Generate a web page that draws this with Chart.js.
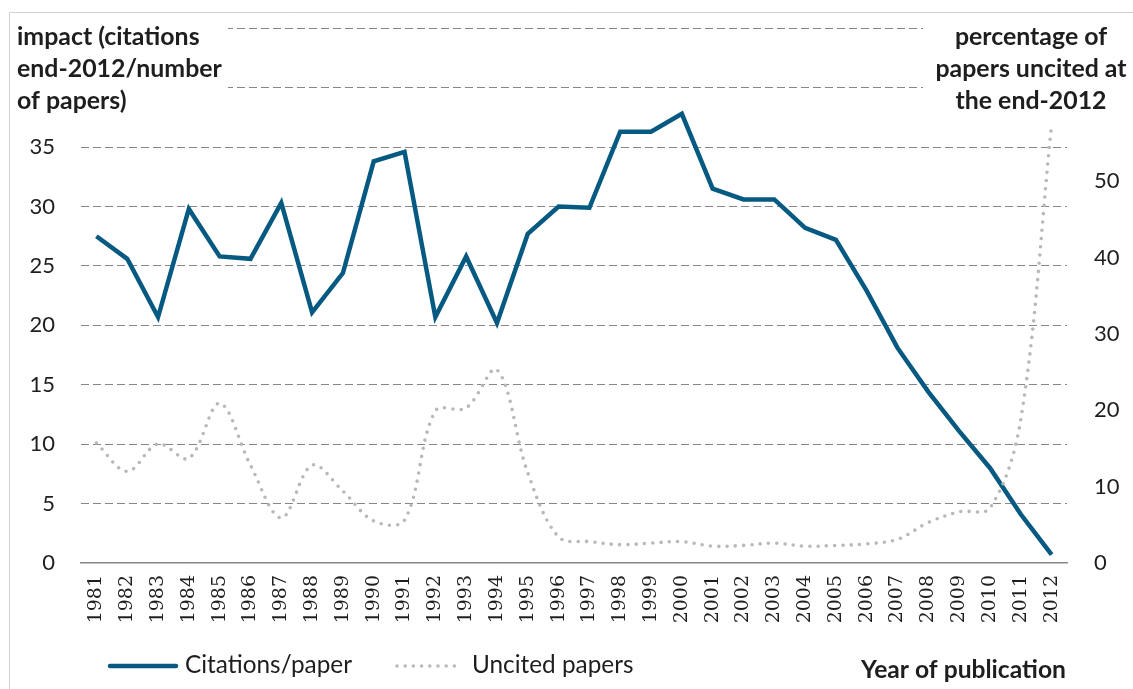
<!DOCTYPE html>
<html>
<head>
<meta charset="utf-8">
<title>Citations per paper and uncited papers by year of publication</title>
<script src="https://cdn.jsdelivr.net/npm/chart.js@4.4.1/dist/chart.umd.min.js"></script>
<style>
  html, body { margin: 0; padding: 0; background: #ffffff; }
  #wrap { position: relative; width: 1133px; height: 689px; }
  canvas { display: block; }
</style>
</head>
<body>
<div id="wrap"><canvas id="c" width="1133" height="689"></canvas></div>
<script>
// Year of publication
const years = ['1981','1982','1983','1984','1985','1986','1987','1988','1989','1990',
               '1991','1992','1993','1994','1995','1996','1997','1998','1999','2000',
               '2001','2002','2003','2004','2005','2006','2007','2008','2009','2010',
               '2011','2012'];

// Impact: citations at end-2012 divided by number of papers
const citationsPerPaper = [27.5, 25.6, 20.7, 29.8, 25.8, 25.6, 30.3, 21.1, 24.4, 33.8,
                           34.6, 20.7, 25.8, 20.2, 27.7, 30.0, 29.9, 36.3, 36.3, 37.8,
                           31.5, 30.6, 30.6, 28.2, 27.2, 22.9, 18.1, 14.4, 11.1, 8.0,
                           4.1, 0.7];

// Percentage of papers still uncited at end-2012
const uncitedPct = [15.7, 12.0, 15.6, 13.7, 20.9, 12.8, 5.9, 12.8, 9.4, 5.5,
                    5.6, 19.9, 20.3, 25.3, 11.8, 3.4, 2.8, 2.4, 2.6, 2.8,
                    2.2, 2.3, 2.6, 2.2, 2.3, 2.5, 3.1, 5.3, 6.7, 7.2,
                    18.8, 57.4];

// Axis tick settings
const leftAxisMax = 45, leftStep = 5, leftLabelMax = 35;
const rightAxisMax = 70, rightStep = 10, rightLabelMax = 50;

const leftTitle = ['impact (citations', 'end-2012/number', 'of papers)'];
const rightTitle = ['percentage of', 'papers uncited at', 'the end-2012'];
const xTitle = 'Year of publication';
const seriesNames = ['Citations/paper', 'Uncited papers'];

const BLUE = '#065a82';
const GREY_DOT = '#b8b8b8';
const GRID = '#878787';
const TEXT = '#1e1e1e';
const SANS = 'Lato, "Open Sans", "DejaVu Sans", sans-serif';

// font size that makes a string span a given width
function fitSize(ctx, text, weight, family, width) {
  ctx.save();
  ctx.font = weight + ' 100px ' + family;
  const w = ctx.measureText(text).width;
  ctx.restore();
  return 100 * width / w;
}

// vertical axes: fixed width, no extra room reserved above/below the plot
function fixVertical(width) {
  return (s) => { s.width = width; s.paddingTop = 0; s.paddingBottom = 0; };
}

const decorations = {
  id: 'decorations',
  beforeDatasetsDraw(chart) {
    const ctx = chart.ctx;
    ctx.save();
    // outer frame (left and top edges)
    ctx.strokeStyle = '#d0d0d0';
    ctx.lineWidth = 1;
    ctx.beginPath();
    ctx.moveTo(9.5, 700);
    ctx.lineTo(9.5, 12.5);
    ctx.lineTo(1140, 12.5);
    ctx.stroke();

    // white panels behind the axis titles
    ctx.fillStyle = '#ffffff';
    ctx.fillRect(12, 14, 216, 102);
    ctx.fillRect(923, 14, 210, 102);

    const tSize = fitSize(ctx, leftTitle[1], 'bold', SANS, 205);
    ctx.font = 'bold ' + tSize.toFixed(2) + 'px ' + SANS;
    ctx.fillStyle = TEXT;
    ctx.textBaseline = 'alphabetic';
    ctx.textAlign = 'left';
    const baselines = [45, 77, 109];
    leftTitle.forEach((s, i) => ctx.fillText(s, 17, baselines[i]));
    ctx.textAlign = 'center';
    rightTitle.forEach((s, i) => ctx.fillText(s, 1031, baselines[i]));
    ctx.restore();
  },
  afterDraw(chart) {
    const ctx = chart.ctx;
    ctx.save();
    const legY = 666;
    // solid series sample
    ctx.strokeStyle = BLUE;
    ctx.lineWidth = 4.5;
    ctx.lineCap = 'round';
    ctx.beginPath();
    ctx.moveTo(110, legY);
    ctx.lineTo(176, legY);
    ctx.stroke();
    // dotted series sample
    ctx.strokeStyle = GREY_DOT;
    ctx.lineWidth = 3.5;
    ctx.setLineDash([0, 8.2]);
    ctx.beginPath();
    ctx.moveTo(397, legY);
    ctx.lineTo(462, legY);
    ctx.stroke();
    ctx.setLineDash([]);

    const lSize = fitSize(ctx, seriesNames[0], 'normal', SANS, 167);
    ctx.font = 'normal ' + lSize.toFixed(2) + 'px ' + SANS;
    ctx.fillStyle = TEXT;
    ctx.textAlign = 'left';
    ctx.textBaseline = 'alphabetic';
    ctx.fillText(seriesNames[0], 185, 673);
    ctx.fillText(seriesNames[1], 472, 673);

    const xSize = fitSize(ctx, xTitle, 'bold', SANS, 205);
    ctx.font = 'bold ' + xSize.toFixed(2) + 'px ' + SANS;
    ctx.fillText(xTitle, 861, 678);
    ctx.restore();
  }
};

new Chart(document.getElementById('c'), {
  type: 'line',
  data: {
    labels: years,
    datasets: [
      {
        label: seriesNames[1],
        data: uncitedPct,
        yAxisID: 'y2',
        borderColor: GREY_DOT,
        borderWidth: 3.6,
        borderDash: [0, 8.3],
        borderCapStyle: 'round',
        tension: 0.35,
        pointRadius: 0,
        fill: false,
        order: 0
      },
      {
        label: seriesNames[0],
        data: citationsPerPaper,
        yAxisID: 'y',
        borderColor: BLUE,
        borderWidth: 4.5,
        borderJoinStyle: 'miter',
        tension: 0,
        pointRadius: 0,
        fill: false,
        order: 1
      }
    ]
  },
  options: {
    responsive: false,
    devicePixelRatio: 1,
    animation: false,
    layout: { padding: { top: 28.3, left: 0, right: 0, bottom: 0 } },
    plugins: {
      legend: { display: false },
      tooltip: { enabled: false }
    },
    scales: {
      x: {
        type: 'category',
        offset: true,
        grid: { display: false, drawTicks: false },
        border: { display: true, color: GRID, width: 1.5 },
        ticks: {
          autoSkip: false,
          minRotation: 90,
          maxRotation: 90,
          padding: 12,
          color: TEXT,
          font: { family: '"DejaVu Serif", "Liberation Serif", serif', size: 19 }
        },
        afterFit(s) { s.height = 126; }
      },
      y: {
        position: 'left',
        min: 0,
        max: leftAxisMax,
        grid: {
          drawTicks: false,
          lineWidth: 1,
          color: (c) => (c.tick && c.tick.value === 0) ? 'rgba(0,0,0,0)' : GRID
        },
        border: { display: false, dash: [8, 4] },
        ticks: {
          stepSize: leftStep,
          padding: 26,
          color: TEXT,
          font: { family: SANS, size: 22 },
          callback: (v) => (v > leftLabelMax ? '' : v)
        },
        afterFit: fixVertical(81)
      },
      y2: {
        position: 'right',
        min: 0,
        max: rightAxisMax,
        grid: { display: false, drawTicks: false },
        border: { display: false },
        ticks: {
          stepSize: rightStep,
          padding: 27,
          color: TEXT,
          font: { family: SANS, size: 22 },
          callback: (v) => (v > rightLabelMax ? '' : v)
        },
        afterFit: fixVertical(66)
      }
    }
  },
  plugins: [decorations]
});
</script>
</body>
</html>
